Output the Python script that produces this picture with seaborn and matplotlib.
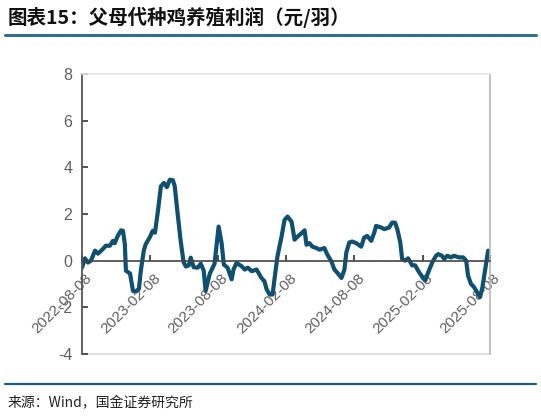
import matplotlib
matplotlib.use("Agg")
import matplotlib.pyplot as plt
import matplotlib.transforms as mtransforms
import seaborn as sns
import pandas as pd

dates = [
    "2022-08-08", "2022-08-16", "2022-08-24", "2022-09-01", "2022-09-12", "2022-09-20",
    "2022-10-03", "2022-10-11", "2022-10-22", "2022-10-30", "2022-11-04", "2022-11-12",
    "2022-11-21", "2022-11-26", "2022-12-01", "2022-12-04", "2022-12-15", "2022-12-23",
    "2022-12-31", "2023-01-08", "2023-01-13", "2023-01-21", "2023-01-26", "2023-02-06",
    "2023-02-14", "2023-02-20", "2023-02-28", "2023-03-08", "2023-03-16", "2023-03-24",
    "2023-04-01", "2023-04-09", "2023-04-14", "2023-04-22", "2023-04-30", "2023-05-08",
    "2023-05-14", "2023-05-22", "2023-05-27", "2023-06-04", "2023-06-15", "2023-06-23",
    "2023-07-01", "2023-07-06", "2023-07-17", "2023-07-25", "2023-07-30", "2023-08-10",
    "2023-08-18", "2023-08-24", "2023-09-03", "2023-09-14", "2023-09-19", "2023-09-27",
    "2023-10-11", "2023-10-19", "2023-10-27", "2023-11-07", "2023-11-20", "2023-12-03",
    "2023-12-11", "2023-12-17", "2023-12-25", "2024-01-02", "2024-01-07", "2024-01-15",
    "2024-01-26", "2024-02-03", "2024-02-11", "2024-02-22", "2024-03-01", "2024-03-09",
    "2024-03-20", "2024-03-28", "2024-04-02", "2024-04-10", "2024-04-18", "2024-04-29",
    "2024-05-07", "2024-05-20", "2024-05-28", "2024-06-08", "2024-06-16", "2024-06-24",
    "2024-07-05", "2024-07-13", "2024-07-18", "2024-07-26", "2024-08-03", "2024-08-14",
    "2024-08-27", "2024-09-04", "2024-09-12", "2024-09-23", "2024-10-01", "2024-10-06",
    "2024-10-20", "2024-10-28", "2024-11-10", "2024-11-18", "2024-11-26", "2024-12-02",
    "2024-12-10", "2024-12-15", "2024-12-23", "2024-12-31", "2025-01-11", "2025-01-19",
    "2025-01-27", "2025-02-07", "2025-02-15", "2025-02-23", "2025-03-06", "2025-03-16",
    "2025-03-22", "2025-04-01", "2025-04-07", "2025-04-15", "2025-04-25", "2025-05-03",
    "2025-05-17", "2025-05-28", "2025-06-05", "2025-06-10", "2025-06-18", "2025-06-26",
    "2025-07-04", "2025-07-12", "2025-07-18", "2025-07-28", "2025-08-03",
]

profit = [
    -0.30, 0.10, -0.08, 0.00, 0.43, 0.30,
    0.50, 0.64, 0.64, 0.85, 0.75, 1.06,
    1.30, 1.28, 0.72, -0.43, -0.55, -1.30,
    -1.32, -1.20, -0.43, 0.43, 0.70, 1.00,
    1.28, 1.20, 2.13, 3.19, 3.33, 3.15,
    3.47, 3.45, 3.20, 2.00, 0.85, -0.07,
    -0.25, -0.20, 0.13, -0.28, -0.30, -0.13,
    -0.43, -1.30, -0.57, -0.30, -0.13, 1.46,
    0.75, -0.17, -0.30, -0.80, -0.38, -0.10,
    -0.24, -0.38, -0.30, -0.45, -0.38, -0.74,
    -0.88, -1.23, -1.45, -1.45, -0.80, 0.18,
    1.03, 1.74, 1.89, 1.67, 0.90, 1.03,
    1.18, 1.30, 0.68, 0.75, 0.60, 0.54,
    0.47, 0.54, 0.26, -0.03, -0.38, -0.52,
    -0.74, -0.38, 0.35, 0.78, 0.82, 0.75,
    0.60, 0.99, 1.06, 0.85, 1.20, 1.49,
    1.42, 1.35, 1.42, 1.63, 1.63, 1.35,
    0.78, 0.07, 0.00, 0.10, -0.20, -0.20,
    -0.43, -0.70, -0.85, -0.50, -0.07, 0.21,
    0.28, 0.21, 0.07, 0.21, 0.14, 0.21,
    0.14, 0.14, 0.00, -0.64, -1.00, -1.13,
    -1.35, -1.56, -1.20, -0.20, 0.43,
]

tick_dates = ["2022-08-08", "2023-02-08", "2023-08-08", "2024-02-08",
              "2024-08-08", "2025-02-08", "2025-08-08"]
y_ticks = [-4, -2, 0, 2, 4, 6, 8]

title_text = "图表15：父母代种鸡养殖利润（元/羽）"
source_text = "来源：Wind，国金证券研究所"

sns.set_theme(style="white")
plt.rcParams["font.family"] = ["Liberation Sans", "Noto Sans CJK SC", "DejaVu Sans"]

df = pd.DataFrame({"date": pd.to_datetime(dates), "profit": profit})

fig = plt.figure(figsize=(5.41, 4.16), dpi=100)
ax = fig.add_axes([82 / 541, 1 - 354 / 416, (490 - 82) / 541, (354 - 74) / 416])

sns.lineplot(data=df, x="date", y="profit", ax=ax, color="#0F4F70", linewidth=3.0,
             solid_joinstyle="round", solid_capstyle="round")

ax.set_xlim(pd.Timestamp(tick_dates[0]), pd.Timestamp(tick_dates[-1]))
ax.set_ylim(-4, 8)
ax.set_yticks(y_ticks)
ax.set_yticklabels([str(v) for v in y_ticks])
ax.set_xticks(pd.to_datetime(tick_dates))
ax.set_xticklabels(tick_dates)
ax.set_xlabel("")
ax.set_ylabel("")
ax.grid(False)

# spines
ax.spines["left"].set_color("#555555")
ax.spines["left"].set_linewidth(1.3)
ax.spines["bottom"].set_position(("data", 0))
ax.spines["bottom"].set_color("#444444")
ax.spines["bottom"].set_linewidth(1.2)
ax.spines["top"].set_color("#e4e4e4")
ax.spines["top"].set_linewidth(1.2)
ax.spines["right"].set_color("#b8b8b8")
ax.spines["right"].set_linewidth(1.2)
ax.plot([0, 1], [0, 0], transform=ax.transAxes, color="#e0e0e0", lw=1.5,
        clip_on=False, zorder=0)

ax.tick_params(axis="y", direction="in", length=4.5, width=1.2, color="#333333",
               labelsize=11.5, labelcolor="#606060", pad=7, left=True)
ax.tick_params(axis="x", direction="in", length=4, width=1.2, color="#333333",
               labelsize=11, labelcolor="#606060", pad=2, bottom=True)
for lab in ax.get_xticklabels():
    lab.set_rotation(45)
    lab.set_rotation_mode("anchor")
    lab.set_ha("right")
    lab.set_va("center")
    lab.set_transform(lab.get_transform() +
                      mtransforms.ScaledTranslation(8 / 100, -13 / 100, fig.dpi_scale_trans))

# title and rules
fig.text(8 / 541, 1 - 17 / 416, title_text, fontsize=14, fontweight="bold",
         style="italic", color="#111111", va="center", ha="left",
         family=["Noto Sans CJK SC", "DejaVu Sans"])
fig.add_artist(plt.Line2D([5 / 541, 536 / 541], [1 - 34.5 / 416, 1 - 34.5 / 416],
                          color="#33708F", lw=2.2, transform=fig.transFigure))
fig.add_artist(plt.Line2D([5 / 541, 536 / 541], [1 - 384 / 416, 1 - 384 / 416],
                          color="#1D5E80", lw=1.6, transform=fig.transFigure))
fig.text(8 / 541, 1 - 403 / 416, source_text, fontsize=10, color="#222222",
         va="center", ha="left", family=["Noto Sans CJK SC", "DejaVu Sans"])

fig.savefig("out.png", dpi=100)
